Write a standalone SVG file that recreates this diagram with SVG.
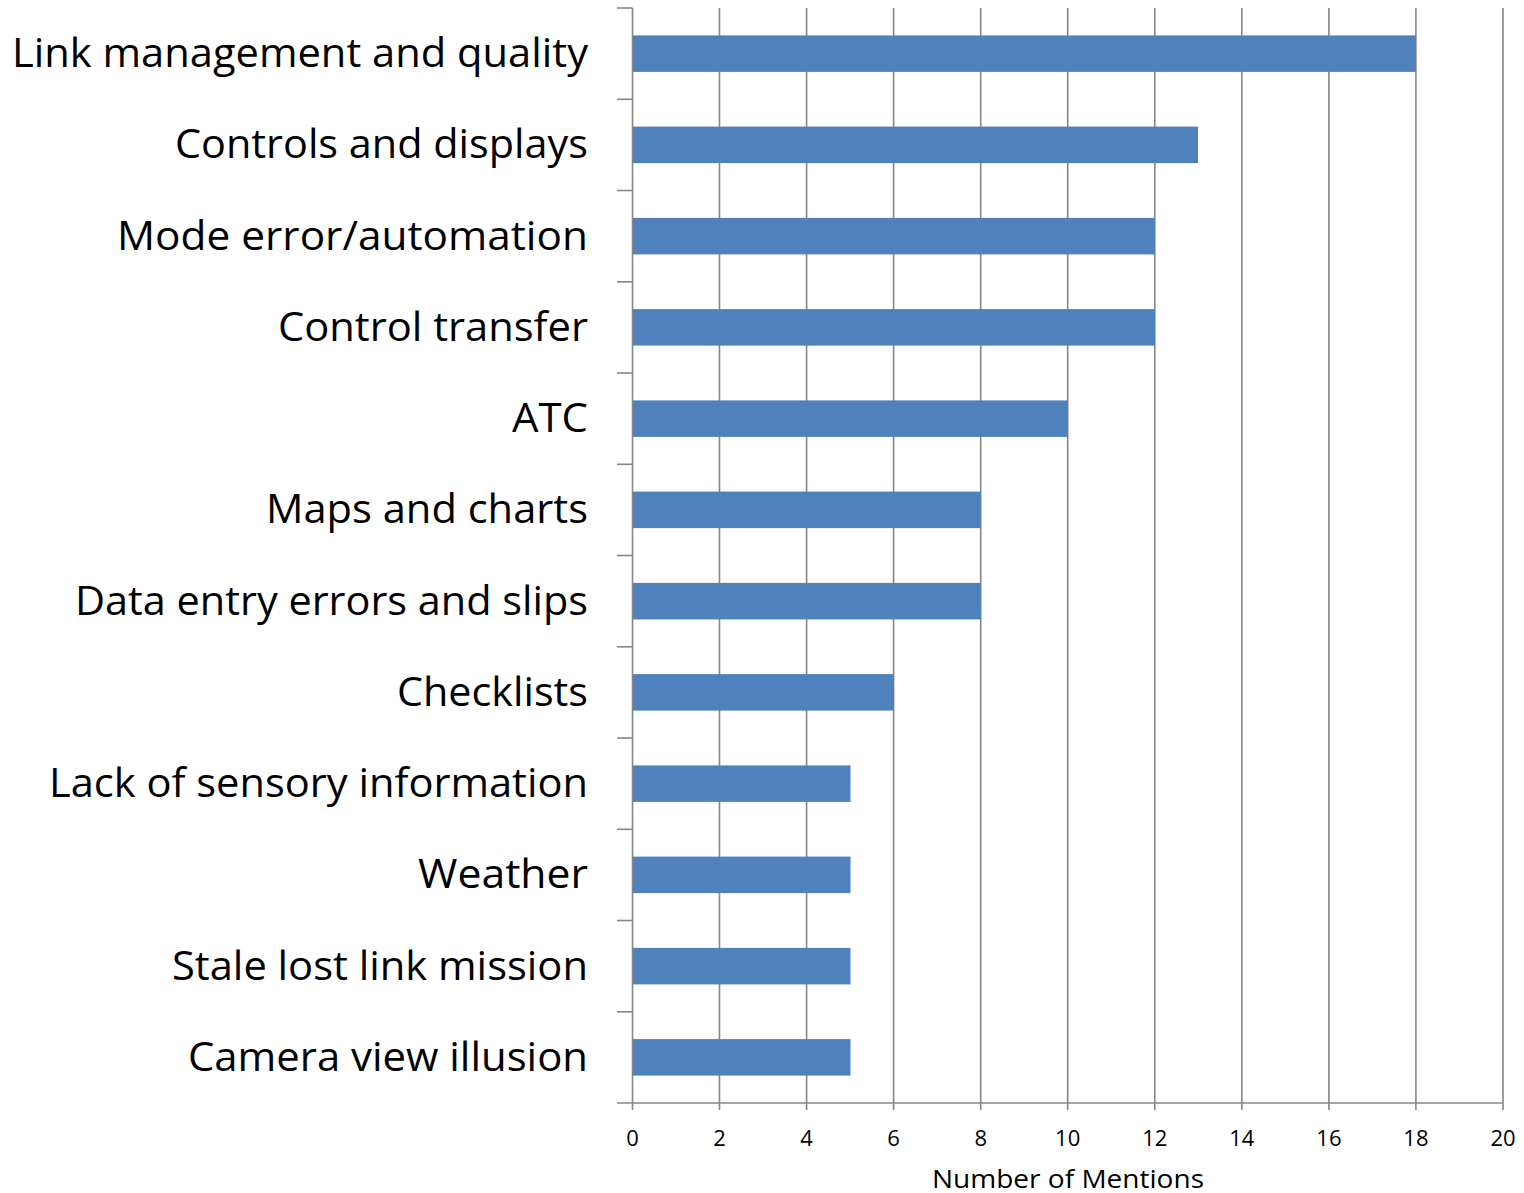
<svg xmlns="http://www.w3.org/2000/svg" width="1524" height="1193" viewBox="0 0 1524 1193">
  <style>
    .grid { stroke: #868686; stroke-width: 1.6; fill: none; }
    .bar { fill: #4F81BD; }
    .cat { font-family: "Open Sans", "Liberation Sans", sans-serif; font-size: 40px; fill: #000; text-anchor: end; }
    .tick { font-family: "Open Sans", "Liberation Sans", sans-serif; font-size: 22px; fill: #000; text-anchor: middle; }
    .title { font-family: "Open Sans", "Liberation Sans", sans-serif; font-size: 26px; fill: #000; text-anchor: middle; }
  </style>
  <rect width="1524" height="1193" fill="#ffffff"/>

  <!-- vertical gridlines (extend below the axis as tick marks) -->
  <g id="gridlines" class="grid">
    <line x1="719.5" y1="8" x2="719.5" y2="1110"/>
    <line x1="806.6" y1="8" x2="806.6" y2="1110"/>
    <line x1="893.6" y1="8" x2="893.6" y2="1110"/>
    <line x1="980.7" y1="8" x2="980.7" y2="1110"/>
    <line x1="1067.7" y1="8" x2="1067.7" y2="1110"/>
    <line x1="1154.8" y1="8" x2="1154.8" y2="1110"/>
    <line x1="1241.8" y1="8" x2="1241.8" y2="1110"/>
    <line x1="1328.9" y1="8" x2="1328.9" y2="1110"/>
    <line x1="1415.9" y1="8" x2="1415.9" y2="1110"/>
    <line x1="1503" y1="8" x2="1503" y2="1110"/>
  </g>

  <!-- axes and category ticks -->
  <g id="axes" class="grid">
    <line x1="632.5" y1="8" x2="632.5" y2="1110"/>
    <line x1="617" y1="1103" x2="1503" y2="1103"/>
    <line x1="617" y1="8" x2="632.5" y2="8"/>
    <line x1="617" y1="99.3" x2="632.5" y2="99.3"/>
    <line x1="617" y1="190.5" x2="632.5" y2="190.5"/>
    <line x1="617" y1="281.8" x2="632.5" y2="281.8"/>
    <line x1="617" y1="373" x2="632.5" y2="373"/>
    <line x1="617" y1="464.3" x2="632.5" y2="464.3"/>
    <line x1="617" y1="555.5" x2="632.5" y2="555.5"/>
    <line x1="617" y1="646.8" x2="632.5" y2="646.8"/>
    <line x1="617" y1="738" x2="632.5" y2="738"/>
    <line x1="617" y1="829.3" x2="632.5" y2="829.3"/>
    <line x1="617" y1="920.5" x2="632.5" y2="920.5"/>
    <line x1="617" y1="1011.8" x2="632.5" y2="1011.8"/>
  </g>

  <!-- bars: 43.52 px per mention -->
  <g id="bars">
    <rect class="bar" x="633" y="35.4" width="783" height="36.5"/>
    <rect class="bar" x="633" y="126.6" width="565" height="36.5"/>
    <rect class="bar" x="633" y="217.9" width="522" height="36.5"/>
    <rect class="bar" x="633" y="309.1" width="522" height="36.5"/>
    <rect class="bar" x="633" y="400.4" width="435" height="36.5"/>
    <rect class="bar" x="633" y="491.6" width="348" height="36.5"/>
    <rect class="bar" x="633" y="582.9" width="348" height="36.5"/>
    <rect class="bar" x="633" y="674.1" width="261" height="36.5"/>
    <rect class="bar" x="633" y="765.4" width="217.5" height="36.5"/>
    <rect class="bar" x="633" y="856.6" width="217.5" height="36.5"/>
    <rect class="bar" x="633" y="947.9" width="217.5" height="36.5"/>
    <rect class="bar" x="633" y="1039.1" width="217.5" height="36.5"/>
  </g>

  <!-- category labels -->
  <g id="categories">
    <text class="cat" x="588" y="67" textLength="576" lengthAdjust="spacingAndGlyphs">Link management and quality</text>
    <text class="cat" x="588" y="158.2" textLength="413" lengthAdjust="spacingAndGlyphs">Controls and displays</text>
    <text class="cat" x="588" y="249.5" textLength="471" lengthAdjust="spacingAndGlyphs">Mode error/automation</text>
    <text class="cat" x="588" y="340.7" textLength="310" lengthAdjust="spacingAndGlyphs">Control transfer</text>
    <text class="cat" x="588" y="432" textLength="76" lengthAdjust="spacingAndGlyphs">ATC</text>
    <text class="cat" x="588" y="523.2" textLength="322" lengthAdjust="spacingAndGlyphs">Maps and charts</text>
    <text class="cat" x="588" y="614.5" textLength="513" lengthAdjust="spacingAndGlyphs">Data entry errors and slips</text>
    <text class="cat" x="588" y="705.7" textLength="191" lengthAdjust="spacingAndGlyphs">Checklists</text>
    <text class="cat" x="588" y="797" textLength="539" lengthAdjust="spacingAndGlyphs">Lack of sensory information</text>
    <text class="cat" x="588" y="888.2" textLength="170" lengthAdjust="spacingAndGlyphs">Weather</text>
    <text class="cat" x="588" y="979.5" textLength="416" lengthAdjust="spacingAndGlyphs">Stale lost link mission</text>
    <text class="cat" x="588" y="1070.7" textLength="400" lengthAdjust="spacingAndGlyphs">Camera view illusion</text>
  </g>

  <!-- value axis labels -->
  <g id="value-axis">
    <text class="tick" x="632.5" y="1146">0</text>
    <text class="tick" x="719.5" y="1146">2</text>
    <text class="tick" x="806.6" y="1146">4</text>
    <text class="tick" x="893.6" y="1146">6</text>
    <text class="tick" x="980.7" y="1146">8</text>
    <text class="tick" x="1067.7" y="1146">10</text>
    <text class="tick" x="1154.8" y="1146">12</text>
    <text class="tick" x="1241.8" y="1146">14</text>
    <text class="tick" x="1328.9" y="1146">16</text>
    <text class="tick" x="1415.9" y="1146">18</text>
    <text class="tick" x="1503" y="1146">20</text>
    <text class="title" x="1068" y="1188" textLength="272" lengthAdjust="spacingAndGlyphs">Number of Mentions</text>
  </g>
</svg>
